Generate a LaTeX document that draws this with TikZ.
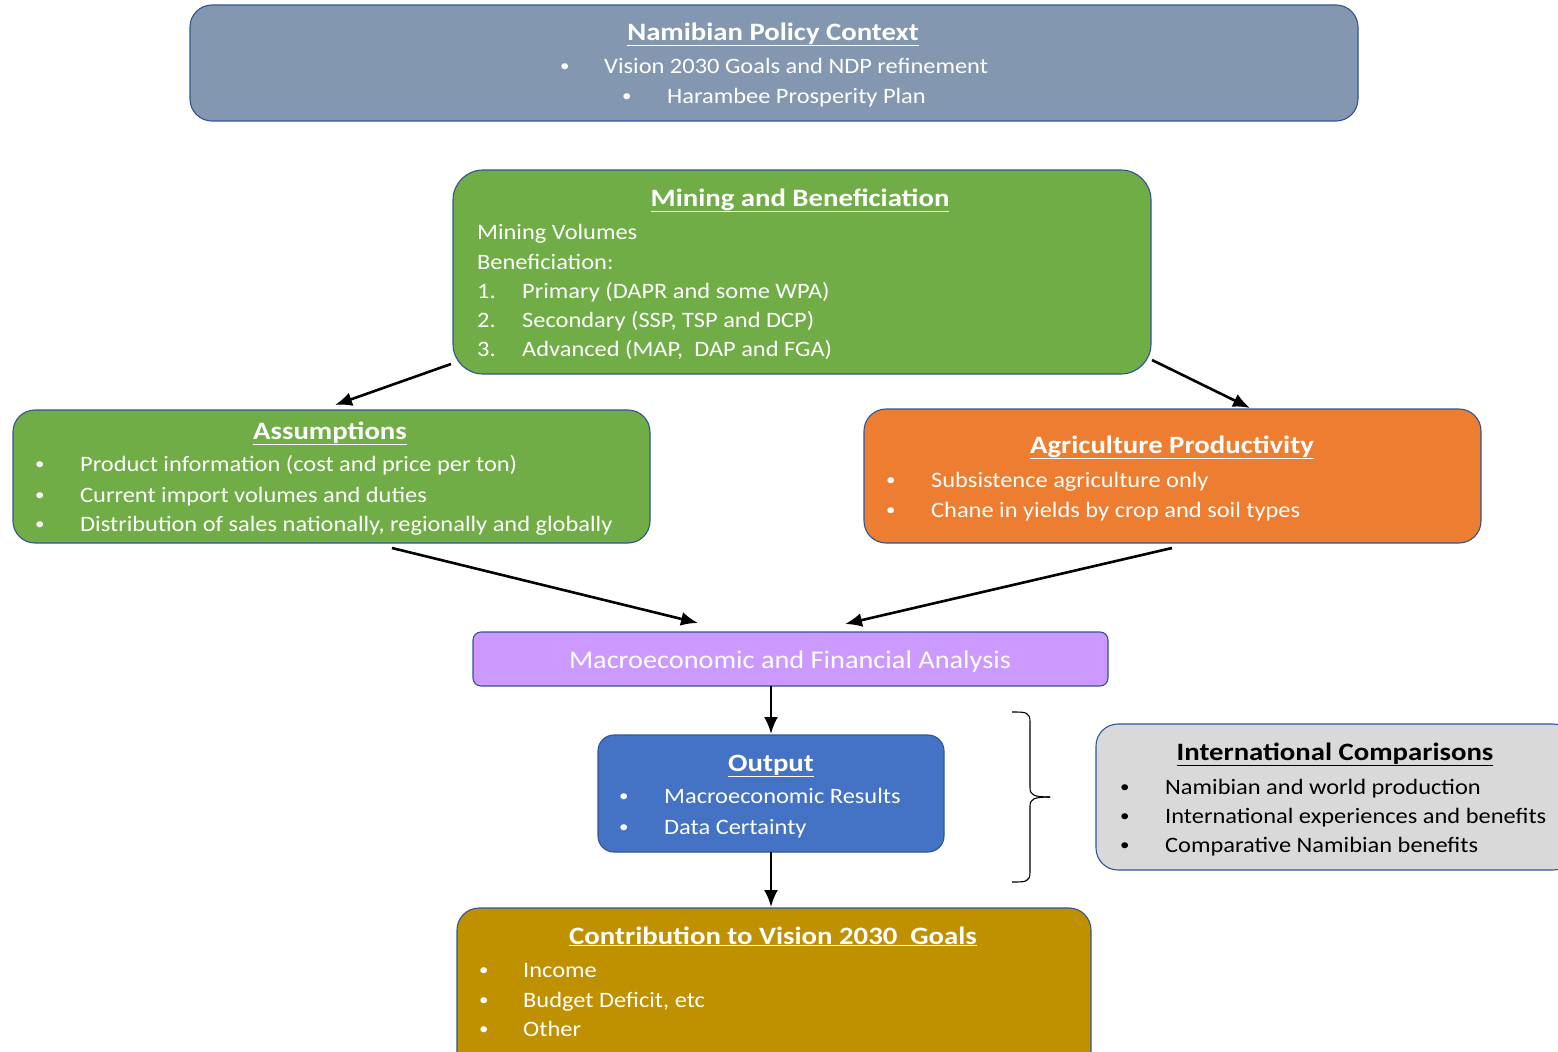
\documentclass[tikz,border=0pt]{standalone}
\usepackage{fontspec}
\setmainfont{Carlito}
\newfontfamily\bodyfont[FakeStretch=1.11]{Carlito}
\newfontfamily\titlefont[FakeStretch=1.15]{Carlito}
\usetikzlibrary{arrows.meta}
\definecolor{bord}{HTML}{2F5597}
\definecolor{cpolicy}{HTML}{8497B0}
\definecolor{cgreen}{HTML}{70AD47}
\definecolor{corange}{HTML}{ED7D31}
\definecolor{cmacro}{HTML}{CC99FF}
\definecolor{cblue}{HTML}{4472C4}
\definecolor{cgrey}{HTML}{D9D9D9}
\definecolor{cgold}{HTML}{BF9000}
\tikzset{
  panel/.style={draw=bord, line width=1.1pt, rounded corners=22pt},
  ttl/.style={font=\titlefont\fontsize{25}{29}\selectfont\bfseries, anchor=base, inner sep=0pt},
  txt/.style={font=\bodyfont\fontsize{22}{26}\selectfont, anchor=base west, inner sep=0pt},
  bul/.style={font=\bodyfont\fontsize{17}{20}\selectfont, anchor=base west, inner sep=0pt},
  conn/.style={line width=2.6pt, -{Latex[length=17pt,width=14pt]}},
}
\newcommand{\ttlu}[1]{\underline{#1}}
\begin{document}
\begin{tikzpicture}[x=1pt,y=-1pt]
\useasboundingbox (0,0) rectangle (1558,1052);
% Policy
\path[panel, fill=cpolicy] (190,5) rectangle (1358,121);
\node[ttl, text=white] (policyT) at (773,40) {\ttlu{Namibian Policy Context}};
\node[bul, text=white] (policyB1) at (560,71) {•};
\node[txt, text=white] (policyL1) at (604,73) {Vision 2030 Goals and NDP refinement};
\node[bul, text=white] (policyB2) at (622,101) {•};
\node[txt, text=white] (policyL2) at (667,103) {Harambee Prosperity Plan};
% Mining
\path[panel, fill=cgreen, rounded corners=30pt] (453,170) rectangle (1151,374);
\node[ttl, text=white] (mineT) at (800,206) {\ttlu{Mining and Beneficiation}};
\node[txt, text=white] (mineL1) at (477,239) {Mining Volumes};
\node[txt, text=white] (mineL2) at (477,269.5) {Beneficiation:};
\node[txt, text=white] (mineN1) at (477,298.5) {1.};
\node[txt, text=white] (mineL3) at (522,298.5) {Primary (DAPR and some WPA)};
\node[txt, text=white] (mineN2) at (477,327.5) {2.};
\node[txt, text=white] (mineL4) at (522,327.5) {Secondary (SSP, TSP and DCP)};
\node[txt, text=white] (mineN3) at (477,356.5) {3.};
\node[txt, text=white] (mineL5) at (522,356.5) {Advanced (MAP,\ \ DAP and FGA)};
% Assumptions
\path[panel, fill=cgreen] (13,410) rectangle (650,543);
\node[ttl, text=white] (assT) at (330,439) {\ttlu{Assumptions}};
\foreach \yy/\tt [count=\i] in {471.5/{Product information (cost and price per ton)},502.5/{Current import volumes and duties},531.5/{Distribution of sales nationally, regionally and globally}}{
  \node[bul, text=white] (assB\i) at (35,\yy-2) {•};
  \node[txt, text=white] (assL\i) at (80,\yy) {\tt};
}
% Agriculture
\path[panel, fill=corange] (864,409) rectangle (1481,543);
\node[ttl, text=white] (agrT) at (1172,453) {\ttlu{Agriculture Productivity}};
\foreach \yy/\tt [count=\i] in {487.5/{Subsistence agriculture only},517.5/{Chane in yields by crop and soil types}}{
  \node[bul, text=white] (agrB\i) at (886,\yy-2) {•};
  \node[txt, text=white] (agrL\i) at (931,\yy) {\tt};
}
% Macro
\path[panel, fill=cmacro, rounded corners=8pt] (473,632) rectangle (1108,686);
\node[text=white, font=\bodyfont\fontsize{25.5}{29}\selectfont, anchor=base, inner sep=0pt] (macroT) at (790,668) {Macroeconomic and Financial Analysis};
% Output
\path[panel, fill=cblue, rounded corners=16pt] (598,735) rectangle (944,852);
\node[ttl, text=white] (outT) at (771,771) {\ttlu{Output}};
\foreach \yy/\tt [count=\i] in {803.5/{Macroeconomic Results},834.5/{Data Certainty}}{
  \node[bul, text=white] (outB\i) at (619,\yy-2) {•};
  \node[txt, text=white] (outL\i) at (664,\yy) {\tt};
}
% International
\path[panel, fill=cgrey] (1096,724) rectangle (1575,870);
\node[ttl, text=black] (intT) at (1335,760) {\ttlu{International Comparisons}};
\foreach \yy/\tt [count=\i] in {794.5/{Namibian and world production},823.5/{International experiences and benefits},852.5/{Comparative Namibian benefits}}{
  \node[bul, text=black] (intB\i) at (1120,\yy-2) {•};
  \node[txt, text=black] (intL\i) at (1165,\yy) {\tt};
}
% Contribution
\path[panel, fill=cgold] (457,908) rectangle (1091,1075);
\node[ttl, text=white] (conT) at (773,944) {\ttlu{Contribution to Vision 2030\ \ Goals}};
\foreach \yy/\tt [count=\i] in {977.5/{Income},1007.5/{Budget Deficit, etc},1036.5/{Other}}{
  \node[bul, text=white] (conB\i) at (479,\yy-2) {•};
  \node[txt, text=white] (conL\i) at (523,\yy) {\tt};
}
% connector coordinates
\coordinate (a1) at (451,364); \coordinate (a2) at (335,405);
\coordinate (b1) at (1152,360); \coordinate (b2) at (1250,408);
\coordinate (c1) at (392,548); \coordinate (c2) at (698,623);
\coordinate (d1) at (1172,548); \coordinate (d2) at (845,624);
\coordinate (e1) at (771,686); \coordinate (e2) at (771,734);
\coordinate (f1) at (771,852); \coordinate (f2) at (771,907);
\draw[conn] (a1) -- (a2);
\draw[conn] (b1) -- (b2);
\draw[conn] (c1) -- (c2);
\draw[conn] (d1) -- (d2);
\draw[conn] (e1) -- (e2);
\draw[conn] (f1) -- (f2);
% brace
\coordinate (br1) at (1012,712);
\coordinate (br2) at (1012,882);
\coordinate (brtip) at (1050,797);
\draw[line width=1.1pt, line join=round] (br1) .. controls (1026,712) and (1030,712) .. (1030,722) -- (1030,788) .. controls (1030,795) and (1034,797) .. (brtip);
\draw[line width=1.1pt, line join=round] (br2) .. controls (1026,882) and (1030,882) .. (1030,872) -- (1030,806) .. controls (1030,799) and (1034,797) .. (brtip);
\end{tikzpicture}
\end{document}
